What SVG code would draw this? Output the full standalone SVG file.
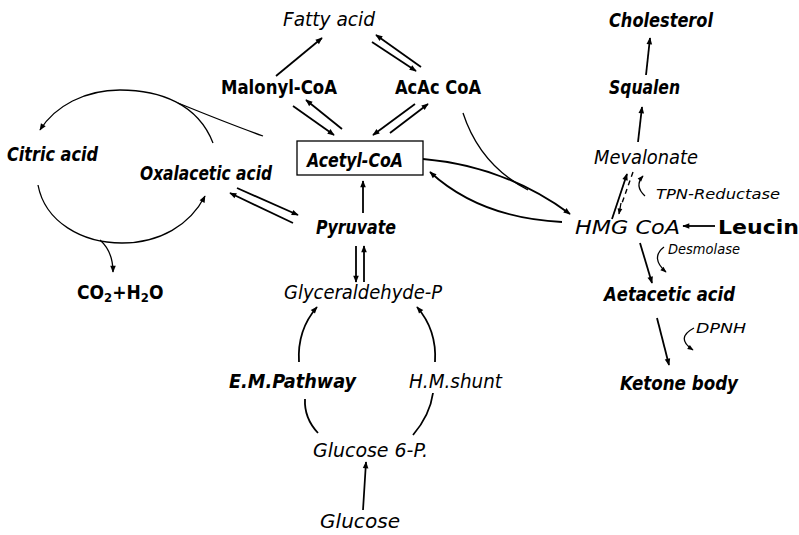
<svg xmlns="http://www.w3.org/2000/svg" width="799" height="535" viewBox="0 0 799 535">
<defs>
<marker id="ah" viewBox="0 0 10 10" refX="9" refY="5" markerWidth="9" markerHeight="7" markerUnits="userSpaceOnUse" orient="auto">
<path d="M0,1 L10,5 L0,9 Z" fill="#000"/>
</marker>
<marker id="ahs" viewBox="0 0 10 10" refX="9" refY="5" markerWidth="7" markerHeight="6" markerUnits="userSpaceOnUse" orient="auto">
<path d="M0,1 L10,5 L0,9 Z" fill="#000"/>
</marker>
</defs>
<style>
text{font-family:'Liberation Sans Narrow','DejaVu Sans Condensed','Liberation Sans',sans-serif;fill:#000;}
.n{font-size:19px;font-style:italic;}
.b{font-size:19px;font-weight:bold;}
.s{font-size:14px;font-style:italic;}
.c path,.c line{fill:none;stroke:#000;stroke-width:1.8;}
.c .a{marker-end:url(#ah);}
.c .t{stroke-width:1.3;}
.c .sm{stroke-width:1.3;marker-end:url(#ahs);}
.c .d{stroke-dasharray:5 4;stroke-width:1.4;}
</style>
<rect width="799" height="535" fill="#fff"/>

<g id="fatty-acid"><text class="n" x="283" y="26" textLength="92" lengthAdjust="spacingAndGlyphs">Fatty acid</text></g>
<g id="malonyl-coa"><text class="b" x="221" y="94" textLength="116" lengthAdjust="spacingAndGlyphs">Malonyl-CoA</text></g>
<g id="acac-coa"><text class="b" x="395" y="94" textLength="86" lengthAdjust="spacingAndGlyphs">AcAc CoA</text></g>
<g id="acetyl-coa">
<rect x="297" y="141" width="126" height="34" fill="none" stroke="#000" stroke-width="1.3"/>
<text class="n" x="307" y="167" textLength="96" lengthAdjust="spacingAndGlyphs" font-weight="bold">Acetyl-CoA</text>
</g>
<g id="citric-acid"><text class="n" x="7" y="161" textLength="91" lengthAdjust="spacingAndGlyphs" font-weight="bold">Citric acid</text></g>
<g id="oxalacetic-acid"><text class="n" x="140" y="180" textLength="132" lengthAdjust="spacingAndGlyphs" font-weight="bold">Oxalacetic acid</text></g>
<g id="pyruvate"><text class="n" x="316" y="234" textLength="80" lengthAdjust="spacingAndGlyphs" font-weight="bold">Pyruvate</text></g>
<g id="glyceraldehyde-p"><text class="n" x="284" y="299" textLength="158" lengthAdjust="spacingAndGlyphs">Glyceraldehyde-P</text></g>
<g id="em-pathway"><text class="b" x="229" y="388" textLength="127" lengthAdjust="spacingAndGlyphs" font-style="italic">E.M.Pathway</text></g>
<g id="hm-shunt"><text class="n" x="409" y="388" textLength="93" lengthAdjust="spacingAndGlyphs">H.M.shunt</text></g>
<g id="glucose-6-p"><text class="n" x="313" y="457" textLength="115" lengthAdjust="spacingAndGlyphs">Glucose 6-P.</text></g>
<g id="glucose"><text class="n" x="320" y="528" textLength="80" lengthAdjust="spacingAndGlyphs">Glucose</text></g>
<g id="co2-h2o"><text class="b" x="77" y="299">CO<tspan font-size="13" dy="3">2</tspan><tspan dy="-3">+H</tspan><tspan font-size="13" dy="3">2</tspan><tspan dy="-3">O</tspan></text></g>
<g id="cholesterol"><text class="b" x="609" y="27" textLength="104" lengthAdjust="spacingAndGlyphs" font-style="italic">Cholesterol</text></g>
<g id="squalen"><text class="n" x="609" y="94" textLength="71" lengthAdjust="spacingAndGlyphs" font-weight="bold">Squalen</text></g>
<g id="mevalonate"><text class="n" x="594" y="164" textLength="104" lengthAdjust="spacingAndGlyphs">Mevalonate</text></g>
<g id="tpn-reductase"><text class="s" x="656" y="199" textLength="124" lengthAdjust="spacingAndGlyphs">TPN-Reductase</text></g>
<g id="hmg-coa"><text class="n" x="575" y="234" textLength="105" lengthAdjust="spacingAndGlyphs" font-size="20">HMG  CoA</text></g>
<g id="leucin"><text class="b" x="718" y="234" textLength="81" lengthAdjust="spacingAndGlyphs" font-size="20">Leucin</text></g>
<g id="desmolase"><text class="s" x="668" y="254" textLength="72" lengthAdjust="spacingAndGlyphs" font-size="12">Desmolase</text></g>
<g id="aetacetic-acid"><text class="n" x="604" y="301" textLength="131" lengthAdjust="spacingAndGlyphs" font-weight="bold">Aetacetic acid</text></g>
<g id="dpnh"><text class="s" x="696" y="333" textLength="50" lengthAdjust="spacingAndGlyphs">DPNH</text></g>
<g id="ketone-body"><text class="b" x="620" y="390" textLength="118" lengthAdjust="spacingAndGlyphs" font-style="italic">Ketone body</text></g>

<g id="connectors" class="c">
<!-- top -->
<line class="a" x1="276" y1="76" x2="322" y2="38"/>
<line class="a" x1="372" y1="42" x2="416" y2="71"/>
<line class="a" x1="421" y1="67" x2="376" y2="35"/>
<line class="a" x1="293" y1="106" x2="334" y2="135"/>
<line class="a" x1="342" y1="129" x2="306" y2="100"/>
<line class="a" x1="415" y1="104" x2="373" y2="135"/>
<line class="a" x1="390" y1="133" x2="428" y2="104"/>
<line class="a" x1="363" y1="213" x2="363" y2="181"/>
<!-- oxalacetic / pyruvate -->
<line class="a" x1="237" y1="188" x2="298" y2="215"/>
<line class="a" x1="293" y1="223" x2="230" y2="193"/>
<!-- pyruvate / glyceraldehyde -->
<line class="a" x1="356" y1="246" x2="356" y2="282"/>
<line class="a" x1="364" y1="282" x2="364" y2="246"/>
<!-- glucose -->
<line class="a" x1="363" y1="510" x2="366" y2="462"/>
<path d="M318,433 Q304,418 305,399"/>
<path class="a" d="M299,362 Q297,330 317,307"/>
<path d="M413,435 Q430,415 433,393"/>
<path class="a" d="M435,362 Q437,330 417,307"/>
<!-- citric cycle -->
<path class="a t" d="M213,143 C198,104 160,90 120,90 C85,90 55,106 40,130"/>
<path class="t" d="M263,136 C235,126 205,114 178,103"/>
<path class="a t" d="M38,185 C45,222 82,243 122,243 C160,243 190,225 205,196"/>
<path class="a t" d="M100,240 C109,248 113,258 113,272"/>
<!-- acetyl / HMG -->
<path class="a" d="M423,159 Q505,166 570,214"/>
<path class="a" d="M562,222 Q480,218 430,172"/>
<path class="t" d="M463,113 Q480,165 528,190"/>
<!-- right column -->
<line class="a" x1="612" y1="219" x2="627" y2="174"/>
<line class="d" x1="633" y1="172" x2="622" y2="203"/>
<path class="sm" d="M621,203 L619,214"/>
<path class="sm" d="M645,196 Q634,186 643,176"/>
<line class="a" x1="715" y1="226" x2="683" y2="226"/>
<line class="a" x1="640" y1="243" x2="652" y2="283"/>
<path class="sm" d="M664,247 Q650,258 666,272"/>
<line class="a" x1="657" y1="318" x2="669" y2="365"/>
<path class="sm" d="M694,328 Q675,338 693,350"/>
<line class="a" x1="638" y1="142" x2="642" y2="107"/>
<line class="a" x1="646" y1="75" x2="650" y2="38"/>
</g>
</svg>
